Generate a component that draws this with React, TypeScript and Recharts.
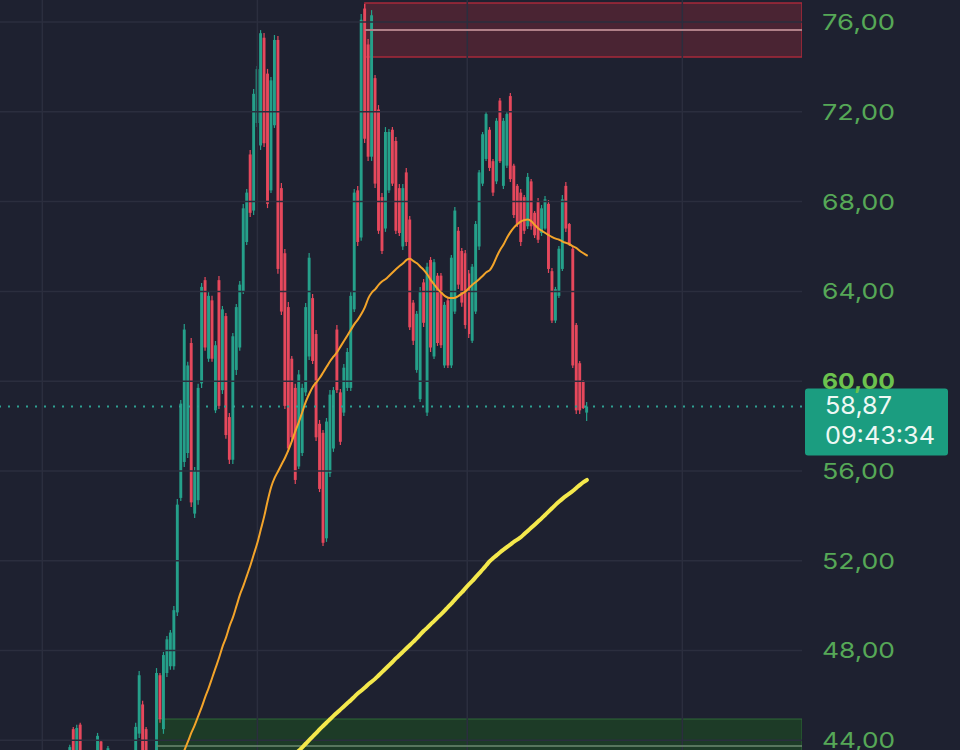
import React from 'react';
import { ComposedChart, XAxis, YAxis, Bar, Line, ReferenceLine, ReferenceArea } from 'recharts';

// candle OHLC, one entry per bar
const opens = [
  43.2, 44.5, 43.2, 44.7, 43.2, 42.6, 43.3, 43.0, 43.2, 43.95,
  43.1, 43.2, 42.8, 43.2, 42.9, 42.6, 42.9, 43.2, 43.0, 43.2,
  44.3, 45.6, 44.5, 43.3, 42.9, 43.3, 46.9, 44.5, 47.0, 47.3,
  47.3, 49.7, 54.8, 56.4, 56.8, 61.7, 54.1, 54.7, 59.9, 64.5,
  61.0, 63.6, 58.7, 64.5, 59.6, 62.9, 58.4, 56.5, 60.5, 61.5,
  64.0, 66.2, 70.1, 67.6, 71.5, 70.5, 75.3, 73.7, 68.5, 71.4,
  75.2, 68.6, 65.7, 63.3, 61.0, 59.7, 56.2, 56.8, 59.5, 61.1,
  63.7, 62.1, 58.1, 57.7, 53.0, 55.9, 57.0, 62.3, 59.5, 58.6,
  59.7, 59.7, 63.2, 68.5, 66.4, 76.6, 75.0, 70.0, 73.5, 72.1,
  68.2, 66.8, 68.5, 71.2, 70.7, 68.6, 66.0, 69.3, 67.2, 63.5,
  60.5, 59.2, 64.4, 58.6, 65.4, 61.1, 64.7, 64.7, 60.7, 63.6,
  60.7, 63.1, 66.7, 65.8, 65.7, 64.8, 61.8, 63.1, 66.0, 68.8,
  69.9, 71.2, 69.8, 68.9, 72.5, 68.7, 69.6, 72.7, 69.6, 68.7,
  68.4, 68.2, 66.9, 68.9, 67.5, 68.0, 66.6, 66.8, 67.9, 64.9,
  62.7, 63.8, 65.0, 68.7, 67.0, 65.9, 62.5, 60.8, 60.0, 58.6,
];
const highs = [
  43.8, 44.6, 44.69, 44.78, 43.3, 43.2, 43.4, 43.5, 44.33, 44.02,
  43.2, 43.75, 43.4, 43.3, 43.0, 43.2, 43.4, 43.3, 43.5, 44.78,
  47.09, 45.76, 44.6, 43.4, 43.5, 47.22, 47.0, 47.94, 48.65, 48.92,
  49.99, 54.75, 59.16, 62.55, 60.86, 61.92, 56.18, 59.88, 64.37, 64.64,
  63.97, 63.8, 61.79, 64.69, 63.35, 63.04, 58.58, 62.15, 63.44, 64.46,
  67.89, 68.56, 70.3, 73.02, 74.04, 75.64, 75.51, 73.91, 73.55, 75.42,
  75.38, 68.83, 65.89, 63.53, 61.12, 59.88, 60.5, 59.88, 63.48, 65.71,
  63.88, 62.28, 58.27, 57.83, 58.36, 59.61, 59.74, 62.5, 59.65, 60.77,
  61.48, 64.02, 68.56, 68.69, 76.36, 76.8, 75.24, 76.53, 73.64, 72.3,
  68.38, 71.32, 71.23, 71.32, 70.88, 68.78, 68.78, 69.5, 67.36, 63.62,
  63.13, 64.2, 64.55, 65.27, 65.53, 65.44, 64.82, 64.82, 63.53, 63.71,
  65.62, 67.76, 66.87, 65.93, 65.84, 64.95, 65.22, 67.14, 69.41, 71.1,
  71.99, 71.32, 69.9, 71.72, 72.61, 71.72, 71.99, 72.84, 69.68, 68.78,
  68.56, 68.29, 69.27, 69.01, 67.58, 68.16, 67.85, 68.25, 68.07, 65.04,
  64.2, 66.02, 68.29, 68.87, 67.05, 66.02, 62.59, 60.9, 60.05, 59.07,
];
const lows = [
  43.1, 43.0, 43.1, 42.9, 42.6, 42.5, 42.8, 42.9, 43.1, 42.9,
  42.6, 43.1, 42.7, 42.6, 42.4, 42.5, 42.8, 42.7, 42.9, 43.1,
  44.11, 43.1, 42.9, 42.7, 42.8, 43.1, 44.78, 44.29, 46.82, 47.14,
  47.14, 49.54, 54.66, 56.18, 56.58, 54.4, 53.91, 54.49, 59.7, 61.35,
  60.86, 60.86, 58.58, 58.76, 59.43, 57.43, 56.31, 56.31, 60.28, 61.35,
  63.88, 66.07, 67.31, 67.4, 71.32, 70.3, 70.43, 67.71, 68.38, 71.28,
  64.78, 62.95, 58.76, 56.85, 57.34, 55.42, 56.09, 56.67, 59.34, 60.94,
  60.77, 57.34, 55.06, 52.66, 52.84, 55.73, 56.85, 59.47, 57.16, 58.45,
  59.56, 59.56, 63.08, 66.02, 66.25, 70.61, 69.81, 69.81, 68.61, 66.56,
  65.67, 66.65, 68.38, 68.69, 66.56, 66.47, 65.84, 66.02, 62.28, 61.61,
  60.37, 59.07, 62.41, 58.45, 61.3, 60.99, 61.57, 61.48, 60.59, 60.59,
  60.59, 62.99, 64.11, 63.31, 62.33, 61.92, 61.7, 62.99, 65.84, 68.69,
  69.81, 69.36, 68.25, 68.78, 69.72, 68.56, 69.5, 68.87, 67.27, 66.87,
  66.02, 66.56, 66.78, 66.74, 66.38, 66.16, 66.47, 66.74, 64.82, 62.59,
  62.59, 63.71, 64.91, 66.65, 66.02, 60.59, 58.54, 58.54, 58.76, 58.23,
];
const closes = [
  43.7, 43.1, 44.55, 43.0, 42.7, 43.1, 42.9, 43.4, 44.2, 43.0,
  42.7, 43.65, 43.3, 42.7, 42.5, 43.1, 43.3, 42.8, 43.4, 44.6,
  46.9, 43.3, 43.1, 42.8, 43.4, 47.0, 44.95, 47.8, 48.5, 48.8,
  49.8, 54.5, 59.0, 62.3, 60.7, 54.6, 56.0, 59.7, 64.2, 61.5,
  63.8, 61.0, 61.6, 58.9, 63.2, 57.6, 56.5, 62.0, 63.3, 64.3,
  67.7, 68.4, 67.5, 72.8, 73.9, 75.5, 70.6, 67.9, 73.4, 75.2,
  65.0, 63.1, 58.9, 57.0, 57.5, 55.6, 60.3, 59.7, 63.3, 65.5,
  60.9, 57.5, 55.2, 52.8, 58.2, 59.4, 59.6, 59.6, 57.3, 60.6,
  61.3, 63.8, 68.4, 66.2, 76.1, 70.8, 70.0, 76.3, 68.8, 66.7,
  65.8, 71.1, 71.1, 68.8, 66.7, 66.6, 68.6, 66.2, 62.4, 61.8,
  63.0, 64.0, 62.6, 65.1, 61.5, 65.3, 61.7, 61.6, 63.4, 60.7,
  65.5, 67.6, 64.3, 63.5, 62.5, 62.1, 65.1, 67.0, 69.3, 71.0,
  71.9, 69.5, 68.4, 71.6, 69.8, 71.6, 71.9, 69.0, 67.4, 67.0,
  66.2, 66.7, 69.1, 66.9, 66.5, 66.3, 67.7, 68.1, 65.0, 62.7,
  64.1, 65.9, 68.1, 66.8, 66.1, 60.7, 58.7, 58.7, 58.8, 58.87,
];

// orange moving average, starts at bar 32
const emaFastStart = 32;
const emaFast = [
  43.2, 43.57, 43.95, 44.35, 44.7, 45.1, 45.5, 45.95, 46.35, 46.8,
  47.25, 47.7, 48.2, 48.6, 49.1, 49.5, 50.0, 50.5, 50.9, 51.35,
  51.8, 52.3, 52.8, 53.4, 54.0, 54.7, 55.3, 55.7, 56.0, 56.3,
  56.6, 56.95, 57.35, 57.8, 58.2, 58.65, 59.1, 59.45, 59.75, 59.95,
  60.15, 60.4, 60.65, 60.9, 61.1, 61.3, 61.55, 61.8, 62.05, 62.3,
  62.55, 62.75, 63.0, 63.3, 63.7, 63.95, 64.1, 64.3, 64.45, 64.55,
  64.7, 64.85, 65.0, 65.13, 65.25, 65.4, 65.45, 65.35, 65.25, 65.1,
  64.95, 64.75, 64.5, 64.3, 64.1, 63.95, 63.8, 63.72, 63.7, 63.72,
  63.8, 63.9, 64.0, 64.15, 64.3, 64.42, 64.55, 64.7, 64.85, 64.95,
  65.2, 65.55, 65.85, 66.1, 66.4, 66.65, 66.85, 67.0, 67.12, 67.18,
  67.2, 67.12, 66.95, 66.8, 66.7, 66.6, 66.5, 66.42, 66.35, 66.3,
  66.22, 66.16, 66.1, 66.0, 65.93, 65.8, 65.7, 65.6,
];

// yellow moving average, starts at bar 64
const emaSlowStart = 64;
const emaSlow = [
  43.25, 43.4, 43.55, 43.7, 43.86, 44.02, 44.18, 44.33, 44.5, 44.65,
  44.8, 44.95, 45.1, 45.24, 45.38, 45.52, 45.66, 45.8, 45.95, 46.1,
  46.22, 46.35, 46.5, 46.62, 46.75, 46.9, 47.05, 47.2, 47.35, 47.5,
  47.66, 47.8, 47.95, 48.1, 48.25, 48.4, 48.55, 48.72, 48.88, 49.02,
  49.18, 49.32, 49.48, 49.62, 49.78, 49.95, 50.1, 50.28, 50.45, 50.6,
  50.78, 50.95, 51.1, 51.28, 51.45, 51.62, 51.8, 51.98, 52.12, 52.25,
  52.38, 52.5, 52.62, 52.73, 52.85, 52.95, 53.06, 53.2, 53.34, 53.48,
  53.62, 53.76, 53.9, 54.05, 54.2, 54.35, 54.5, 54.64, 54.77, 54.89,
  55.0, 55.12, 55.25, 55.38, 55.5, 55.6,
];

const priceTicks = [44, 48, 52, 56, 60, 64, 68, 72, 76];
const timeGridTicks = [-8, 54, 114.5, 176.5];
const lastPrice = 58.87;
const countdown = '09:43:34';
// supply (red) and demand (green) zones: start bar and price levels
const supplyZone = { from: 85, low: 74.44, mid: 75.64, high: 76.85 };
const demandZone = { from: 25, low: 42.9, mid: 43.75, high: 44.95 };

const X_DOMAIN: [number, number] = [-20.2, 211];
const Y_DOMAIN: [number, number] = [43.57, 76.98];

const BG = '#1e2130';
const GRID = '#2b2e3e';
const UP = '#25a08a';
const DOWN = '#e6485c';
const LABEL = '#56a857';

const data = opens.map((o, i) => ({
  i,
  open: o,
  high: highs[i],
  low: lows[i],
  close: closes[i],
  fast: i >= emaFastStart ? emaFast[i - emaFastStart] : null,
  slow: i >= emaSlowStart ? emaSlow[i - emaSlowStart] : null,
}));

const fmt = (v: number) => v.toFixed(2).replace('.', ',');

const Candle = (props: any) => {
  const { x, y, width, height, payload } = props;
  if (!payload || height == null || isNaN(y)) return null;
  const top = height < 0 ? y + height : y;
  const h = Math.abs(height);
  const { open, close, high, low } = payload;
  const span = high - low || 1;
  const toY = (p: number) => top + ((high - p) / span) * h;
  const color = close >= open ? UP : DOWN;
  const bTop = toY(Math.max(open, close));
  const bBot = toY(Math.min(open, close));
  const cx = x + width / 2;
  return (
    <g>
      <line x1={cx} x2={cx} y1={top} y2={top + h} stroke={color} strokeWidth={1.2} />
      <rect x={x} y={bTop} width={width} height={Math.max(bBot - bTop, 1)} fill={color} />
    </g>
  );
};

const PriceTick = (props: any) => {
  const { x, y, payload } = props;
  const hot = payload.value === 60;
  return (
    <text
      x={x + 12}
      y={y}
      dy="0.36em"
      fill={hot ? '#6cc24e' : LABEL}
      fontSize={22}
      fontWeight={hot ? 700 : 400}
      fontFamily="Inter, Roboto, sans-serif"
      textLength={73}
      lengthAdjust="spacingAndGlyphs"
    >
      {fmt(payload.value)}
    </text>
  );
};

const PriceBadge = (props: any) => {
  const vb = props.viewBox;
  if (!vb) return null;
  const left = vb.x + vb.width + 3;
  const cy = vb.y;
  return (
    <g>
      <rect x={left} y={cy - 18} width={143} height={67} rx={3} fill="#1b9d80" />
      <text x={left + 20} y={cy - 1} dy="0.36em" fill="#eef8f4" fontSize={24}
        fontFamily="Inter, Roboto, sans-serif" textLength={67} lengthAdjust="spacingAndGlyphs">
        {fmt(lastPrice)}
      </text>
      <text x={left + 20} y={cy + 29} dy="0.36em" fill="#eef8f4" fontSize={24}
        fontFamily="Inter, Roboto, sans-serif" textLength={110} lengthAdjust="spacingAndGlyphs">
        {countdown}
      </text>
    </g>
  );
};

export default function App() {
  return (
    <div style={{ position: 'absolute', left: 0, top: 0, width: 960, height: 750, background: BG, overflow: 'hidden' }}>
      <ComposedChart width={960} height={750} data={data} margin={{ top: 0, right: 0, bottom: 0, left: 0 }}>
        <XAxis type="number" dataKey="i" domain={X_DOMAIN} allowDataOverflow hide />
        <YAxis
          orientation="right"
          width={158}
          domain={Y_DOMAIN}
          allowDataOverflow
          ticks={priceTicks}
          axisLine={false}
          tickLine={false}
          tick={<PriceTick />}
          interval={0}
        />

        {priceTicks.map((p) => (
          <ReferenceLine key={`h${p}`} y={p} stroke={GRID} strokeWidth={1.5} />
        ))}
        {timeGridTicks.map((t) => (
          <ReferenceLine key={`v${t}`} x={t} stroke={GRID} strokeWidth={1.5} />
        ))}

        <ReferenceArea
          x1={supplyZone.from}
          x2={X_DOMAIN[1]}
          y1={supplyZone.low}
          y2={supplyZone.high}
          fill="#d92f3f"
          fillOpacity={0.24}
          stroke="#a8283a"
          strokeWidth={1.5}
          ifOverflow="hidden"
        />
        <ReferenceLine
          segment={[{ x: supplyZone.from, y: supplyZone.mid }, { x: X_DOMAIN[1], y: supplyZone.mid }]}
          stroke="#b08088"
          strokeWidth={2}
        />
        <ReferenceArea
          x1={demandZone.from}
          x2={X_DOMAIN[1]}
          y1={demandZone.low}
          y2={demandZone.high}
          fill="#1d3b27"
          fillOpacity={1}
          stroke="#2f6a38"
          ifOverflow="hidden"
        />
        <ReferenceLine
          segment={[{ x: demandZone.from, y: demandZone.mid }, { x: X_DOMAIN[1], y: demandZone.mid }]}
          stroke="#6c8a70"
          strokeWidth={1.5}
        />

        <Bar dataKey={(d: any) => [d.low, d.high]} barSize={2.9} shape={<Candle />} isAnimationActive={false} />

        <Line type="monotone" dataKey="fast" stroke="#f3a42a" strokeWidth={2} dot={false} activeDot={false}
          strokeLinecap="round" isAnimationActive={false} />
        <Line type="monotone" dataKey="slow" stroke="#f4e84c" strokeWidth={4} dot={false} activeDot={false}
          strokeLinecap="round" isAnimationActive={false} />

        <ReferenceLine y={lastPrice} stroke="#2fa092" strokeWidth={2} strokeDasharray="2 7" label={<PriceBadge />} />
      </ComposedChart>
    </div>
  );
}
